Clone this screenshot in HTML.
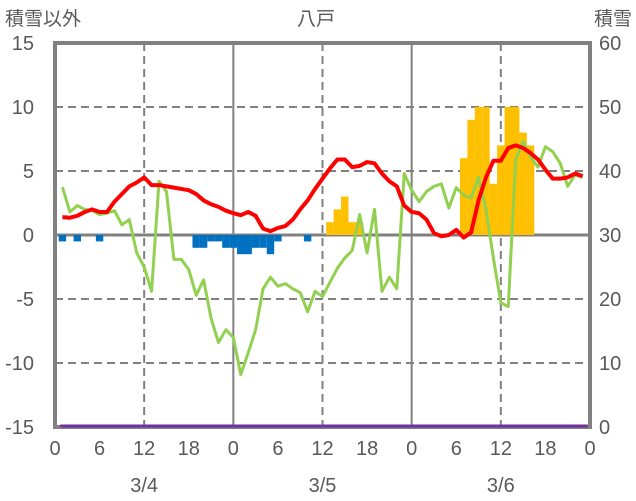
<!DOCTYPE html>
<html><head><meta charset="utf-8">
<style>
html,body{margin:0;padding:0;background:#fff;}
svg{display:block;font-family:"Liberation Sans","Noto Sans CJK JP",sans-serif;}
</style></head>
<body>
<svg id="chart" width="636" height="501" viewBox="0 0 636 501" xmlns="http://www.w3.org/2000/svg">
<g id="grid"></g>
<g id="bars"></g>
<g id="lines"></g>
<g id="axes"></g>
<g id="toplayer"></g>
<text x="5" y="25" font-size="19" fill="#595959">積雪以外</text>
<text x="316" y="25" font-size="19" fill="#595959" text-anchor="middle">八戸</text>
<text x="632" y="25" font-size="19" fill="#595959" text-anchor="end">積雪</text>
</svg>
<script>
const leftTicks=[15,10,5,0,-5,-10,-15];
const rightTicks=[60,50,40,30,20,10,0];
const hourTicks=[0,6,12,18,0,6,12,18,0,6,12,18,0];
const dateLabels=["3/4","3/5","3/6"];
const redTemp=[1.4,1.35,1.5,1.8,2.0,1.8,1.8,2.6,3.2,3.8,4.1,4.5,3.9,3.9,3.8,3.7,3.6,3.5,3.2,2.7,2.4,2.2,1.9,1.7,1.55,1.8,1.5,0.5,0.3,0.55,0.7,1.2,2.0,2.7,3.6,4.4,5.2,5.9,5.9,5.3,5.4,5.7,5.6,4.8,4.2,3.8,2.3,1.8,1.7,1.2,0.15,-0.1,0,0.4,-0.2,0.2,2.7,4.5,5.8,5.8,6.8,7.0,6.8,6.4,5.9,5.1,4.4,4.4,4.5,4.8,4.6];
const greenVals=[3.75,1.8,2.3,2.0,1.9,1.6,1.7,1.9,0.8,1.2,-1.4,-2.5,-4.4,4.2,3.4,-1.9,-1.9,-2.7,-4.7,-3.5,-6.5,-8.4,-7.4,-8.0,-10.9,-9.2,-7.4,-4.2,-3.3,-4.0,-3.8,-4.2,-4.5,-6.0,-4.4,-4.8,-3.7,-2.6,-1.8,-1.2,1.6,-1.4,2.0,-4.4,-3.3,-4.2,4.8,3.5,2.6,3.4,3.8,4.0,2.1,3.7,3.1,2.9,4.5,2.0,-1.8,-5.3,-5.6,5.9,7.3,6.1,5.3,6.9,6.5,5.6,3.8,4.7,4.5];
const blueHours=[1,3,6,19,20,21,22,23,24,25,26,27,28,29,30,34];
const blueVals=[-0.5,-0.5,-0.5,-1.0,-1.0,-0.5,-0.5,-1.0,-1.0,-1.5,-1.5,-1.0,-1.0,-1.5,-0.5,-0.5];
const snowHours=[37,38,39,40,41,55,56,57,58,59,60,61,62,63,64];
const snowVals=[32,34,36,32,32,42,48,50,50,38,44,50,50,46,44];
const snowDepth=new Array(72).fill(0);

const NS="http://www.w3.org/2000/svg";
const X0=55,X1=590,Y0=43,Y1=427;
const xs=h=>X0+(X1-X0)*h/72;
const yL=v=>Y1-(v+15)/30*(Y1-Y0);
const yR=v=>Y1-v/60*(Y1-Y0);
function mk(tag,attrs,parent){const e=document.createElementNS(NS,tag);for(const k in attrs)e.setAttribute(k,attrs[k]);parent.appendChild(e);return e;}
const grid=document.getElementById('grid'),bars=document.getElementById('bars'),lines=document.getElementById('lines'),axes=document.getElementById('axes'),topLayer=document.getElementById('toplayer');

[10,5,-5,-10].forEach(v=>{
 const l=mk('line',{x1:X0,x2:X1,y1:yL(v),y2:yL(v),stroke:'#808080','stroke-width':2,'stroke-dasharray':'8,5'},grid);
 
 
});
[12,36,60].forEach(h=>{
 const l=mk('line',{x1:xs(h),x2:xs(h),y1:Y0,y2:Y1,stroke:'#808080','stroke-width':2,'stroke-dasharray':'8,5'},grid);
 
 
});
[24,48].forEach(h=>{
 const l=mk('line',{x1:xs(h),x2:xs(h),y1:Y0,y2:Y1,stroke:'#808080','stroke-width':2},grid);
 
 
});

const bw=(X1-X0)/72;
blueHours.forEach((h,i)=>{
 const r=mk('rect',{x:xs(h)-bw/2,y:yL(0),width:bw,height:yL(blueVals[i])-yL(0),fill:'#0070C0'},bars);
 
 
});
snowHours.forEach((h,i)=>{
 const r=mk('rect',{x:xs(h)-bw/2,y:yR(snowVals[i]),width:bw,height:yR(30)-yR(snowVals[i]),fill:'#FFC000'},bars);
 
 
});

const zl=mk('line',{x1:X0,x2:X1,y1:yL(0),y2:yL(0),stroke:'#808080','stroke-width':3},grid);



const gp=mk('polyline',{points:greenVals.map((v,i)=>xs(i+1)+','+yL(v)).join(' '),fill:'none',stroke:'#92D050','stroke-width':3,'stroke-linejoin':'round'},lines);


const rp=mk('polyline',{points:redTemp.map((v,i)=>xs(i+1)+','+yL(v)).join(' '),fill:'none',stroke:'#FF0000','stroke-width':4,'stroke-linejoin':'round'},lines);



const fr=mk('rect',{x:X0,y:Y0,width:X1-X0,height:Y1-Y0,fill:'none',stroke:'#808080','stroke-width':4},axes);



const pp=mk('polyline',{points:snowDepth.map((v,i)=>xs(i+0.7)+','+(yR(v)-1)).join(' '),fill:'none',stroke:'#7030A0','stroke-width':3},topLayer);



leftTicks.forEach(v=>{
 const t=mk('text',{x:34,y:yL(v)+7,'font-size':20,fill:'#595959','text-anchor':'end'},axes);
 t.textContent=v;
 
 
});
rightTicks.forEach(v=>{
 const t=mk('text',{x:599,y:yR(v)+7,'font-size':20,fill:'#595959'},axes);
 t.textContent=v;
 
 
});
hourTicks.forEach((v,i)=>{
 const t=mk('text',{x:xs(i*6),y:455,'font-size':20,fill:'#595959','text-anchor':'middle'},axes);
 t.textContent=v;
 
 
});
dateLabels.forEach((d,i)=>{
 const t=mk('text',{x:xs(i*24+12),y:492,'font-size':20,fill:'#595959','text-anchor':'middle'},axes);
 t.textContent=d;
 
 
});
</script>
</body></html>
